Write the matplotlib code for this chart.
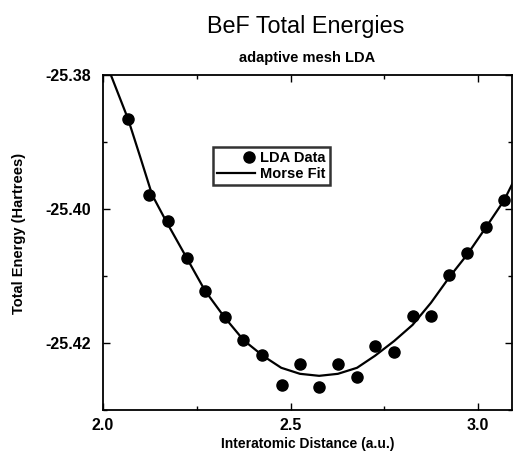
import matplotlib
matplotlib.use("Agg")
import matplotlib.pyplot as plt
from matplotlib.legend_handler import HandlerLine2D
from matplotlib.ticker import MultipleLocator, FormatStrFormatter
import numpy as np

plt.rcParams['font.family'] = ['Liberation Sans', 'DejaVu Sans']
plt.rcParams['font.weight'] = 'bold'

# LDA total energies vs. interatomic distance
r_lda = [2.067, 2.123, 2.172, 2.224, 2.273, 2.324, 2.374, 2.425, 2.476, 2.526,
         2.576, 2.626, 2.676, 2.726, 2.776, 2.825, 2.875, 2.923, 2.971, 3.021, 3.069]
e_lda = [-25.3866, -25.3979, -25.4018, -25.4073, -25.4123, -25.4161, -25.4196,
         -25.4218, -25.4263, -25.4232, -25.4265, -25.4232, -25.4250, -25.4204,
         -25.4214, -25.4159, -25.4159, -25.4098, -25.4065, -25.4027, -25.3987]

# Morse fit curve
r_fit = [2.021, 2.067, 2.099, 2.131, 2.168, 2.223, 2.272, 2.323, 2.375, 2.426,
         2.475, 2.525, 2.576, 2.626, 2.677, 2.725, 2.776, 2.825, 2.874, 2.924,
         2.972, 3.021, 3.069, 3.093]
e_fit = [-25.3800, -25.3866, -25.3922, -25.3979, -25.4018, -25.4073, -25.4122,
         -25.4161, -25.4196, -25.4219, -25.4237, -25.4246, -25.4249, -25.4246,
         -25.4237, -25.4219, -25.4197, -25.4173, -25.4140, -25.4101, -25.4067,
         -25.4027, -25.3987, -25.3960]


class RightMarker(HandlerLine2D):
    # single marker sitting at the right end of the handle
    def get_xdata(self, legend, xdescent, ydescent, width, height, fontsize):
        x = np.array([-xdescent + width - 0.4 * fontsize])
        return x, x


fig = plt.figure(figsize=(5.13, 4.53), dpi=100)
ax = fig.add_axes([103 / 513, 1 - 410 / 453, 409 / 513, 335 / 453])

pts, = ax.plot(r_lda, e_lda, "o", color="black", markersize=8, label="LDA Data")
fit, = ax.plot(r_fit, e_fit, "-", color="black", linewidth=1.6, label="Morse Fit")

ax.set_xlim(2.0, 3.09)
ax.set_ylim(-25.43, -25.38)
ax.xaxis.set_major_locator(MultipleLocator(0.5))
ax.xaxis.set_minor_locator(MultipleLocator(0.25))
ax.yaxis.set_major_locator(MultipleLocator(0.02))
ax.yaxis.set_minor_locator(MultipleLocator(0.01))
ax.xaxis.set_major_formatter(FormatStrFormatter("%.1f"))
ax.yaxis.set_major_formatter(FormatStrFormatter("%.2f"))
ax.tick_params(which="both", direction="in", top=True, right=True, width=1.0)
ax.tick_params(which="major", length=5, labelsize=11.5)
ax.tick_params(which="minor", length=3)
ax.tick_params(axis="y", pad=9)
ax.tick_params(axis="x", pad=6)
for s in ax.spines.values():
    s.set_linewidth(1.3)

leg = ax.legend(handles=[pts, fit], loc="upper left", bbox_to_anchor=(0.269, 0.785),
                borderaxespad=0, frameon=True, fancybox=False, fontsize=10.5,
                handlelength=2.6, handletextpad=0.4, borderpad=0.25, labelspacing=0.15,
                handler_map={pts: RightMarker()})
leg.get_frame().set_edgecolor("black")
leg.get_frame().set_linewidth(1.8)

fig.text(306 / 513, 1 - 27 / 453, "BeF Total Energies", ha="center", va="center",
         fontsize=16.8, fontweight="normal")
fig.text(307 / 513, 1 - 58 / 453, "adaptive mesh LDA", ha="center", va="center",
         fontsize=10.5, fontweight="bold")
fig.text(308 / 513, 1 - 444 / 453, "Interatomic Distance (a.u.)", ha="center", va="center",
         fontsize=10, fontweight="bold")
fig.text(19 / 513, 1 - 233 / 453, "Total Energy (Hartrees)", ha="center", va="center",
         rotation=90, fontsize=10.5, fontweight="bold")

plt.savefig("out.png", dpi=100)
